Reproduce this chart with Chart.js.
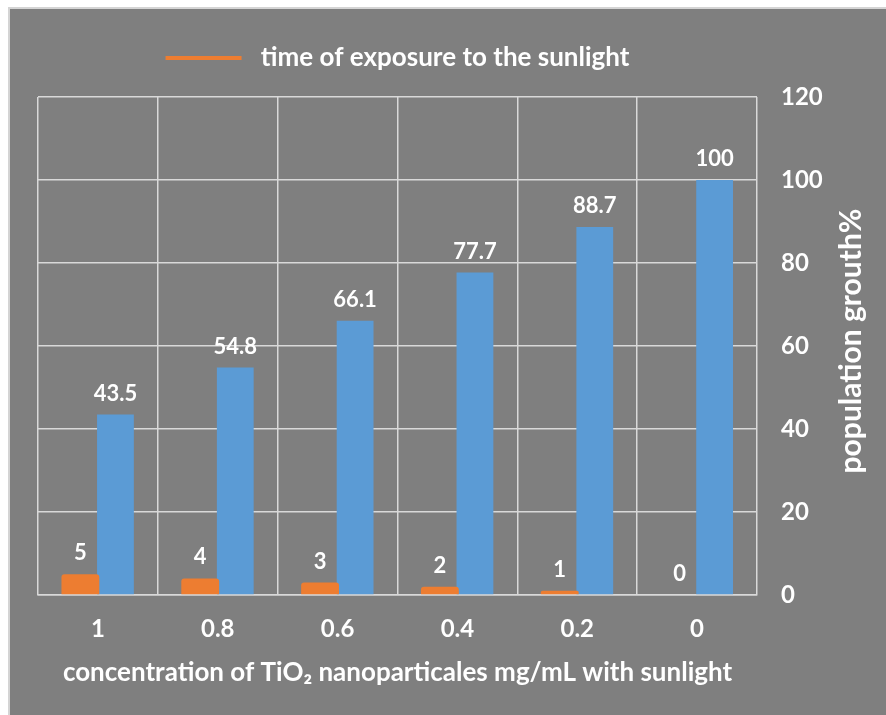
<!DOCTYPE html>
<html>
<head>
<meta charset="utf-8">
<script src="https://cdn.jsdelivr.net/npm/chart.js@4"></script>
<style>
    body { margin: 0; background: #fff; }
    #wrap {
        position: absolute; left: 8px; top: 7px; width: 876px; height: 706px;
        background: #7f7f7f; border-left: 2px solid #d4d4d4; border-top: 2px solid #d4d4d4;
    }
</style>
</head>
<body>
<div id="wrap"><canvas id="chart-growth"></canvas></div>
<script>
// Data
const concentrations = ['1', '0.8', '0.6', '0.4', '0.2', '0'];
const exposureTime = [5, 4, 3, 2, 1, 0];
const populationGrowth = [43.5, 54.8, 66.1, 77.7, 88.7, 100];
const yTicks = [0, 20, 40, 60, 80, 100, 120];

const FONT = 'Lato, "Open Sans", sans-serif';
const gridColor = '#d9d9d9';

// value labels above the bars
const barLabels = {
    id: 'barLabels',
    afterDatasetsDraw(chart) {
        const ctx = chart.ctx;
        ctx.save();
        ctx.fillStyle = '#fff';
        ctx.font = 'bold 22px ' + FONT;
        ctx.textAlign = 'center';
        ctx.textBaseline = 'bottom';
        chart.data.datasets.forEach(function (ds, i) {
            chart.getDatasetMeta(i).data.forEach(function (bar, j) {
                ctx.fillText(String(ds.data[j]), bar.x, bar.y - 10);
            });
        });
        ctx.restore();
    }
};

// right axis title, reading bottom to top
const rightTitle = {
    id: 'rightTitle',
    afterDraw(chart) {
        const ctx = chart.ctx;
        const area = chart.chartArea;
        ctx.save();
        ctx.translate(841, (area.top + area.bottom) / 2 - 5);
        ctx.rotate(-Math.PI / 2);
        ctx.fillStyle = '#fff';
        ctx.font = 'bold 30px ' + FONT;
        ctx.textAlign = 'center';
        ctx.textBaseline = 'middle';
        ctx.fillText('population grouth%', 0, 0);
        ctx.restore();
    }
};

new Chart(document.getElementById('chart-growth'), {
    type: 'bar',
    data: {
        labels: concentrations,
        datasets: [{
            label: ' time of exposure to the sunlight',
            data: exposureTime,
            backgroundColor: '#ED7D31',
            borderRadius: 3,
            barPercentage: 1.08,
            categoryPercentage: 0.585
        }, {
            label: 'population grouth%',
            data: populationGrowth,
            backgroundColor: '#5B9BD5',
            barPercentage: 1.05,
            categoryPercentage: 0.585
        }]
    },
    options: {
        responsive: true,
        maintainAspectRatio: false,
        animation: false,
        layout: { padding: { left: 28, top: 0, right: 0, bottom: 0 } },
        plugins: {
            legend: {
                fullSize: false,
                labels: {
                    color: '#fff',
                    font: { family: FONT, size: 26, weight: 'bold' },
                    boxWidth: 76,
                    boxHeight: 4,
                    padding: 36,
                    filter: function (item) { return item.datasetIndex === 0; }
                }
            },
            subtitle: {
                display: true,
                text: '',
                weight: 500,
                font: { size: 1, lineHeight: 1 },
                padding: { top: 0, bottom: 15 }
            },
            tooltip: { enabled: false }
        },
        scales: {
            x: {
                grid: { color: gridColor, lineWidth: 1.5, drawTicks: false, offset: true },
                border: { color: gridColor, width: 1.5 },
                ticks: {
                    color: '#fff',
                    padding: 20,
                    font: { family: FONT, size: 24, weight: 'bold' }
                },
                title: {
                    display: true,
                    text: 'concentration of TiO\u2082 nanoparticales mg/mL with sunlight',
                    color: '#fff',
                    font: { family: FONT, size: 26, weight: 'bold' },
                    padding: { top: 0, bottom: 27 }
                },
                afterFit: function (scale) { scale.height = 120; }
            },
            y: {
                position: 'right',
                min: 0,
                max: 120,
                afterBuildTicks: function (scale) {
                    scale.ticks = yTicks.map(function (v) { return { value: v }; });
                },
                grid: { color: gridColor, lineWidth: 1.5, drawTicks: false },
                border: { display: false },
                ticks: {
                    color: '#fff',
                    padding: 24,
                    font: { family: FONT, size: 24, weight: 'bold' }
                },
                afterFit: function (scale) { scale.width = 129; }
            }
        }
    },
    plugins: [barLabels, rightTitle]
});
</script>
</body>
</html>
